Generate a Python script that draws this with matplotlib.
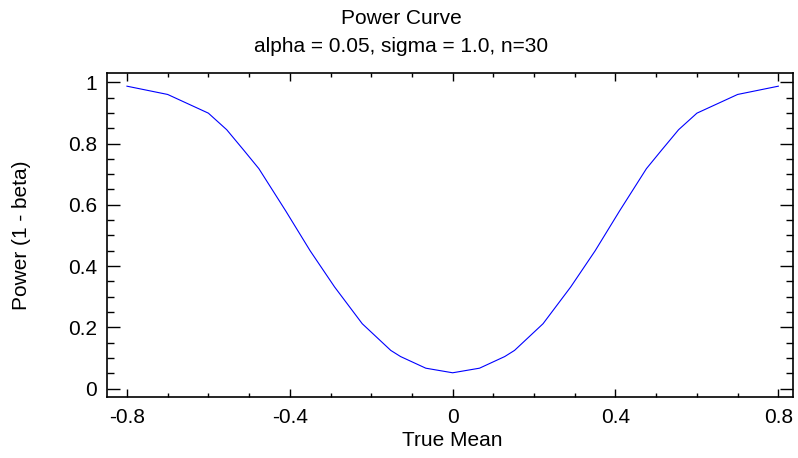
import matplotlib
matplotlib.use("Agg")
import matplotlib.pyplot as plt
from matplotlib.ticker import MultipleLocator, FixedLocator

# Data (true mean vs power)
true_mean = [-0.8, -0.7, -0.6, -0.555, -0.513, -0.476, -0.41, -0.35, -0.29, -0.222,
             -0.152, -0.128, -0.066, 0.0, 0.066, 0.128, 0.152, 0.222, 0.29, 0.35,
             0.41, 0.476, 0.513, 0.555, 0.6, 0.7, 0.8]
power = [0.987, 0.960, 0.899, 0.845, 0.778, 0.718, 0.580, 0.450, 0.332, 0.212,
         0.125, 0.105, 0.067, 0.052, 0.067, 0.105, 0.125, 0.212, 0.332, 0.450,
         0.580, 0.718, 0.778, 0.845, 0.899, 0.960, 0.987]

x_ticks = [-0.8, -0.4, 0, 0.4, 0.8]
x_tick_labels = ["-0.8", "-0.4", "0", "0.4", "0.8"]
y_ticks = [0, 0.2, 0.4, 0.6, 0.8, 1.0]
y_tick_labels = ["0", "0.2", "0.4", "0.6", "0.8", "1"]

plt.rcParams['font.family'] = ['Liberation Sans', 'DejaVu Sans']
FS = 15

fig = plt.figure(figsize=(7.98, 4.58), dpi=100)
ax = fig.add_axes([107/798, 1-397/458, (793-107)/798, (397-73)/458])

ax.plot(true_mean, power, color=(0, 0, 1), linewidth=0.8)

ax.set_xlim(-0.849, 0.836)
ax.set_ylim(-0.027, 1.03)

ax.xaxis.set_major_locator(FixedLocator(x_ticks))
ax.set_xticklabels(x_tick_labels)
ax.xaxis.set_minor_locator(MultipleLocator(0.1))
ax.yaxis.set_major_locator(FixedLocator(y_ticks))
ax.set_yticklabels(y_tick_labels)
ax.yaxis.set_minor_locator(MultipleLocator(0.05))

ax.tick_params(axis='both', which='both', direction='in', top=True, right=True,
               labelsize=FS, width=1.0, color='black')
ax.tick_params(axis='x', which='major', length=6, pad=8)
ax.tick_params(axis='x', which='minor', length=3)
ax.tick_params(axis='y', which='major', length=9.5, pad=7)
ax.tick_params(axis='y', which='minor', length=5)

for s in ax.spines.values():
    s.set_linewidth(1.2)

ax.set_xlabel("True Mean", fontsize=FS)
ax.xaxis.set_label_coords(0.5 + 2/686, -(440-397)/324, transform=ax.transAxes)
ax.set_ylabel("Power (1 - beta)", fontsize=FS)
ax.yaxis.set_label_coords(-(107-22)/686, 0.5, transform=ax.transAxes)
ax.xaxis.label.set_va('center')
ax.yaxis.label.set_va('center')

fig.text(0.5 + 2/798, 1-18/458, "Power Curve", ha='center', va='center', fontsize=FS)
fig.text(0.5 + 2/798, 1-46/458, "alpha = 0.05, sigma = 1.0, n=30", ha='center', va='center', fontsize=FS)

fig.savefig("out.png", dpi=100)
